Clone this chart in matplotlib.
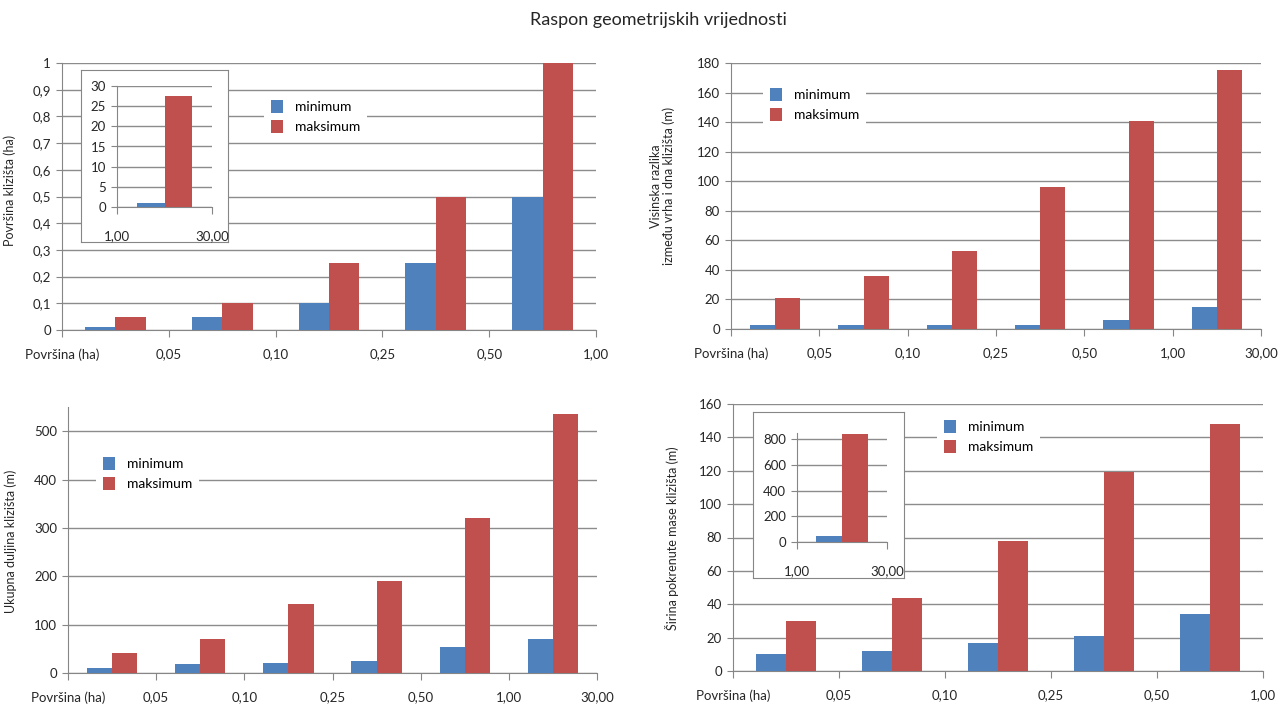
import numpy as np
import matplotlib
matplotlib.use("Agg")
import matplotlib.pyplot as plt
from matplotlib.ticker import FuncFormatter

plt.rcParams["font.family"] = ["Lato", "DejaVu Sans"]

# data
series_names = ["minimum", "maksimum"]
labels_5 = ["Površina (ha)", "0,05", "0,10", "0,25", "0,50", "1,00"]
labels_6 = ["Površina (ha)", "0,05", "0,10", "0,25", "0,50", "1,00", "30,00"]
inset_labels = ["1,00", "30,00"]

area_min = [0.01, 0.05, 0.10, 0.25, 0.50]
area_max = [0.05, 0.10, 0.25, 0.50, 1.00]
area_inset_min = [1.0]
area_inset_max = [27.5]

height_min = [3, 3, 3, 3, 6, 15]
height_max = [21, 36, 53, 96, 141, 175]

length_min = [10, 18, 21, 25, 53, 70]
length_max = [42, 70, 143, 191, 320, 535]

width_min = [10, 12, 17, 21, 34]
width_max = [30, 44, 78, 119, 148]
width_inset_min = [50]
width_inset_max = [845]

BLUE = "#4F81BD"
RED = "#C0504D"
GRID = "#8C8C8C"
AXIS = "#868686"
TXT = "#262626"
W, H = 1279, 704

fig = plt.figure(figsize=(W / 100, H / 100), dpi=100)


def px_rect(x0, x1, y0, y1):
    # pixel box (top-left origin) -> figure fraction rect
    return [x0 / W, 1 - y1 / H, (x1 - x0) / W, (y1 - y0) / H]


def comma(v, pos):
    return f"{v:g}".replace(".", ",")


def bar_axes(rect, mins, maxs, labels, ymax, yticks, xpad=8, fs=9.5):
    ax = fig.add_axes(rect)
    n = len(mins)
    x = np.arange(n) + 0.5
    w = 0.285
    ax.bar(x - w / 2, mins, w, color=BLUE, zorder=3, label=series_names[0])
    ax.bar(x + w / 2, maxs, w, color=RED, zorder=3, label=series_names[1])
    ax.set_xlim(0, n)
    ax.set_ylim(0, ymax)
    ax.set_yticks(yticks)
    ax.yaxis.set_major_formatter(FuncFormatter(comma))
    ax.set_xticks(np.arange(n + 1))
    ax.set_xticklabels(labels)
    ax.grid(axis="y", color=GRID, lw=1, zorder=0)
    ax.set_axisbelow(True)
    for s in ["top", "right"]:
        ax.spines[s].set_visible(False)
    for s in ["left", "bottom"]:
        ax.spines[s].set_color(AXIS)
    ax.tick_params(axis="x", length=5, color=AXIS, pad=xpad, labelsize=fs, labelcolor=TXT)
    ax.tick_params(axis="y", length=4, color=AXIS, pad=4, labelsize=fs, labelcolor=TXT)
    return ax


def inset(frame_px, plot_px, mins, maxs, ymax, yticks):
    fr = fig.add_axes(px_rect(*frame_px))
    fr.set_xticks([])
    fr.set_yticks([])
    fr.set_facecolor("white")
    for s in fr.spines.values():
        s.set_color(AXIS)
    ax = bar_axes(px_rect(*plot_px), mins, maxs, inset_labels, ymax, yticks, xpad=12)
    return ax


def legend(ax, x, y):
    ax.legend(
        loc="upper left",
        bbox_to_anchor=(x / W, 1 - y / H),
        bbox_transform=fig.transFigure,
        frameon=True,
        fancybox=False,
        edgecolor="none",
        facecolor="white",
        framealpha=1,
        fontsize=10,
        handlelength=0.9,
        handleheight=1.1,
        handletextpad=0.8,
        labelspacing=0.45,
        borderpad=0.5,
        borderaxespad=0,
    )


fig.text(658 / W, 1 - 20 / H, "Raspon geometrijskih vrijednosti", ha="center", va="center",
         fontsize=13, color=TXT)

# top left
ax = bar_axes(px_rect(62, 596, 63, 330), area_min, area_max, labels_5, 1, np.arange(0, 1.01, 0.1))
ax.set_ylabel("Površina klizišta (ha)", fontsize=9, color=TXT)
ax.yaxis.set_label_coords(16 / W, 1 - 190 / H, transform=fig.transFigure)
legend(ax, 264, 93)
inset((81, 228, 70, 242), (117, 212, 86, 207), area_inset_min, area_inset_max, 30, np.arange(0, 31, 5))

# top right
ax = bar_axes(px_rect(731, 1261, 63, 329), height_min, height_max, labels_6, 180, np.arange(0, 181, 20))
ax.set_ylabel("Visinska razlika\nizmeđu vrha i dna klizišta (m)", fontsize=9, color=TXT, linespacing=1.0)
ax.yaxis.set_label_coords(675 / W, 1 - 186 / H, transform=fig.transFigure)
legend(ax, 763, 81)

# bottom left
ax = bar_axes(px_rect(68, 597, 407, 673), length_min, length_max, labels_6, 550, np.arange(0, 501, 100))
ax.set_ylabel("Ukupna duljina klizišta (m)", fontsize=9, color=TXT)
ax.yaxis.set_label_coords(17 / W, 1 - 541 / H, transform=fig.transFigure)
legend(ax, 96, 450)

# bottom right
ax = bar_axes(px_rect(733, 1263, 404, 671), width_min, width_max, labels_5, 160, np.arange(0, 161, 20))
ax.set_ylabel("Širina pokrenute mase klizišta (m)", fontsize=9, color=TXT)
ax.yaxis.set_label_coords(679 / W, 1 - 538 / H, transform=fig.transFigure)
legend(ax, 937, 413)
inset((753, 904, 412, 578), (797, 887, 433, 542), width_inset_min, width_inset_max, 850, np.arange(0, 801, 200))

fig.savefig("out.png", dpi=100, facecolor="white")
